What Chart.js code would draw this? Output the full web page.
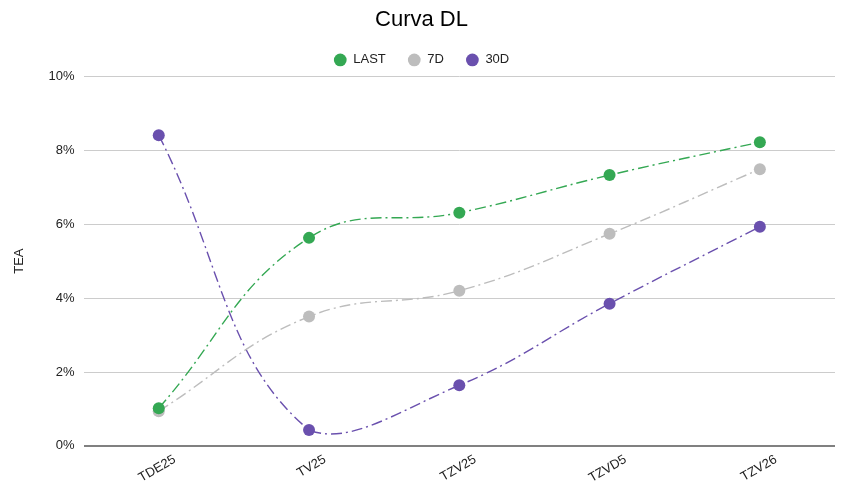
<!DOCTYPE html>
<html>
<head>
<meta charset="utf-8">
<script src="https://cdn.jsdelivr.net/npm/chart.js@4"></script>
<style>
  html, body { margin: 0; padding: 0; background: #fff; }
  #wrap { width: 843px; height: 488px; }
</style>
</head>
<body>
<div id="wrap"><canvas id="chart"></canvas></div>
<script>
const categories = ['TDE25', 'TV25', 'TZV25', 'TZVD5', 'TZV26'];
const lastValues = [1.02, 5.63, 6.31, 7.33, 8.22];
const d7Values = [0.94, 3.50, 4.20, 5.74, 7.49];
const d30Values = [8.41, 0.43, 1.64, 3.85, 5.93];

const FONT = 'Liberation Sans, Arial, sans-serif';

function series(label, data, color) {
    return {
        label: label,
        data: data,
        borderColor: color,
        backgroundColor: color,
        borderWidth: 1.4,
        borderDash: [11, 4, 2, 4],
        tension: 0.42,
        pointRadius: 6,
        pointHoverRadius: 6,
        pointBorderWidth: 0,
        fill: false,
    };
}

const ctx = document.getElementById('chart').getContext('2d');
new Chart(ctx, {
    type: 'line',
    data: {
        labels: categories,
        datasets: [
            series('LAST', lastValues, '#34a853'),
            series('7D', d7Values, '#bdbdbd'),
            series('30D', d30Values, '#6a50ae'),
        ],
    },
    options: {
        responsive: true,
        maintainAspectRatio: false,
        animation: false,
        layout: { padding: { left: 8, right: 8, top: 0, bottom: -4 } },
        plugins: {
            title: {
                display: true,
                text: 'Curva DL',
                color: '#000',
                font: { family: FONT, size: 22, weight: 'normal' },
                padding: { top: 7, bottom: -2 },
            },
            legend: {
                display: true,
                position: 'top',
                labels: {
                    color: '#222',
                    font: { family: FONT, size: 13 },
                    usePointStyle: true,
                    pointStyle: 'circle',
                    boxWidth: 13,
                    boxHeight: 9,
                    padding: 22,
                },
            },
            tooltip: { enabled: false },
        },
        scales: {
            x: {
                offset: true,
                grid: { display: false, drawTicks: false },
                border: { display: false },
                ticks: {
                    color: '#222',
                    font: { family: FONT, size: 13 },
                    maxRotation: 30,
                    minRotation: 30,
                    labelOffset: 16,
                    padding: 6,
                },
            },
            y: {
                min: 0,
                max: 10,
                title: {
                    display: true,
                    text: 'TEA',
                    color: '#222',
                    font: { family: FONT, size: 13 },
                    padding: { bottom: 12 },
                },
                grid: {
                    drawTicks: false,
                    color: ctx => ctx.tick && ctx.tick.value === 0 ? '#808080' : '#cccccc',
                    lineWidth: ctx => ctx.tick && ctx.tick.value === 0 ? 2 : 1,
                },
                border: { display: false },
                ticks: {
                    stepSize: 2,
                    color: '#222',
                    font: { family: FONT, size: 13 },
                    padding: 9,
                    callback: v => v + '%',
                },
            },
        },
    },
});
</script>
</body>
</html>
